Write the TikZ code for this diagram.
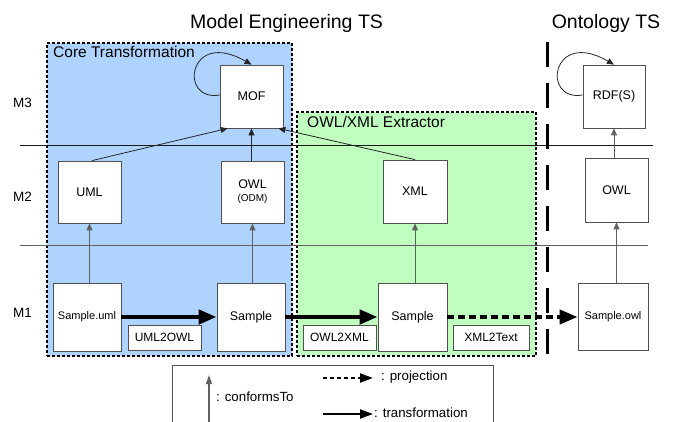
\documentclass[tikz,border=0pt]{standalone}
\usepackage{fontspec}
\setmainfont{Liberation Sans}
\usetikzlibrary{arrows.meta}
\definecolor{bluebg}{HTML}{ADD3FE}
\definecolor{greenbg}{HTML}{C0FEC0}
\definecolor{edgec}{HTML}{505050}
\definecolor{lowc}{HTML}{606060}
\begin{document}
\begin{tikzpicture}[x=1pt,y=-1pt,
  mm/.style={draw=edgec,fill=white,line width=0.8pt,inner sep=0pt,align=center,font=\fontsize{12.5}{14}\selectfont},
  lbl/.style={draw=edgec,fill=white,line width=0.8pt,inner sep=0pt,minimum height=25pt,font=\fontsize{12}{14}\selectfont},
  zone/.style={draw=black,line width=2pt,dash pattern=on 3pt off 2pt,inner sep=0pt},
  confup/.style={-{Triangle[length=7pt,width=6pt]},line width=0.8pt,draw=black!85},
  conflow/.style={-{Triangle[length=7pt,width=6pt]},line width=0.8pt,draw=lowc},
  trans/.style={-{Triangle[length=18pt,width=14pt]},line width=4.5pt,draw=black},
  proj/.style={-{Triangle[length=18pt,width=14pt]},line width=4pt,draw=black,dash pattern=on 7pt off 4pt},
  ltrans/.style={-{Triangle[length=13pt,width=9pt]},line width=2pt,draw=black},
  lproj/.style={-{Triangle[length=13pt,width=9pt]},line width=2pt,draw=black,dash pattern=on 4pt off 3pt},
  title/.style={font=\fontsize{19.5}{22}\selectfont,anchor=base,inner sep=0pt},
  zonetitle/.style={font=\fontsize{15.5}{18}\selectfont,anchor=base west,inner sep=0pt},
  level/.style={font=\fontsize{13.5}{16}\selectfont,anchor=base west,inner sep=0pt},
  legtext/.style={font=\fontsize{13.3}{16}\selectfont,anchor=west,inner sep=0pt}
]
\useasboundingbox (0,0) rectangle (678,422);
\clip (0,0) rectangle (678,422);

% titles
\node[title] (tme) at (286.5,29) {Model Engineering TS};
\node[title] (tont) at (606,29) {Ontology TS};

% zones
\node[zone,fill=bluebg,minimum width=245pt,minimum height=313pt] (core) at (169.5,199.5) {};
\node[zone,fill=greenbg,minimum width=239pt,minimum height=244pt] (extr) at (416.5,234) {};
\node[zonetitle] (coret) at (53,58) {Core Transformation};
\node[zonetitle] (extrt) at (307,128) {OWL/XML Extractor};

% level lines
\coordinate (l1a) at (20,145);
\coordinate (l1b) at (653,145);
\coordinate (l2a) at (20,245);
\coordinate (l2b) at (648,245);
\draw[line width=0.8pt,black!90] (l1a) -- (l1b);
\draw[line width=0.8pt,lowc] (l2a) -- (l2b);

% separator
\coordinate (sepa) at (547,42);
\coordinate (sepb) at (547,357);
\draw[line width=3pt,dash pattern=on 25pt off 16pt] (sepa) -- (sepb);

% level labels
\node[level] (m3) at (13,108) {M3};
\node[level] (m2) at (13,202) {M2};
\node[level] (m1) at (13,318) {M1};

% nodes
\node[mm,minimum width=63pt,minimum height=63pt] (mof) at (251.5,96.5) {MOF};
\node[mm,minimum width=63pt,minimum height=62pt] (uml) at (89.5,192) {UML};
\node[mm,minimum width=63pt,minimum height=62pt] (odm) at (252.5,192) {OWL\\[-1pt]{\fontsize{10}{12}\selectfont (ODM)}};
\node[mm,minimum width=64pt,minimum height=63pt] (xml) at (415,191.5) {XML};
\node[mm,minimum width=62pt,minimum height=63pt] (rdf) at (614,96.5) {RDF(S)};
\node[mm,minimum width=63pt,minimum height=64pt] (owlr) at (616.5,190) {OWL};
\node[mm,minimum width=68pt,minimum height=68pt,font=\fontsize{11}{13}\selectfont] (su) at (87,317) {Sample.uml};
\node[mm,minimum width=68pt,minimum height=68pt] (sb) at (251,317) {Sample};
\node[mm,minimum width=69pt,minimum height=68pt] (sg) at (412.5,317) {Sample};
\node[mm,minimum width=70pt,minimum height=67pt,font=\fontsize{11}{13}\selectfont] (so) at (613,317) {Sample.owl};

\node[lbl,minimum width=73pt] (u2o) at (164.5,337.5) {UML2OWL};
\node[lbl,minimum width=73pt] (o2x) at (339.5,337.5) {OWL2XML};
\node[lbl,minimum width=76pt] (x2t) at (491,337.5) {XML2Text};

% self loops
\draw[confup] ([yshift=1.5pt]mof.west) .. controls (178,102) and (188,28) .. (mof.north);
\draw[confup] ([yshift=1.5pt]rdf.west) .. controls (541,102) and (551,28) .. (rdf.north);

% conformsTo M2 -> M3
\draw[confup] ([xshift=2.5pt]uml.north) -- ([xshift=8pt]mof.south west);
\draw[confup] (odm.north -| mof.south) -- (mof.south);
\draw[confup] (xml.north) -- ([xshift=-5pt]mof.south east);
\draw[conflow] (owlr.north -| rdf.south) -- (rdf.south);

% conformsTo M1 -> M2
\draw[conflow] (su.north -| uml.south) -- (uml.south);
\draw[conflow] (sb.north -| odm.south) -- (odm.south);
\draw[conflow] (sg.north -| xml.south) -- (xml.south);
\draw[conflow] (so.north -| owlr.south) -- (owlr.south);

% transformations
\draw[trans] (su.east) -- (sb.west);
\draw[trans] (sb.east) -- (sg.west);
\draw[proj] (sg.east) -- (so.west);

% legend
\node[draw=edgec,line width=0.8pt,fill=white,minimum width=321pt,minimum height=67pt,inner sep=0pt] (leg) at (332.5,398.5) {};
\coordinate (lca) at (209,422);
\coordinate (lcb) at (209,375);
\draw[-{Triangle[length=9pt,width=6pt]},line width=1.2pt,draw=lowc] (lca) -- (lcb);
\node[legtext] (lct) at (216,397) {: conformsTo};
\coordinate (lpa) at (323,378);
\coordinate (lpb) at (373,378);
\draw[lproj] (lpa) -- (lpb);
\node[legtext] (lpt) at (381,377) {: projection};
\coordinate (lta) at (323,414);
\coordinate (ltb) at (373,414);
\draw[ltrans] (lta) -- (ltb);
\node[legtext] (ltt) at (374,412.5) {: transformation};
\end{tikzpicture}
\end{document}
